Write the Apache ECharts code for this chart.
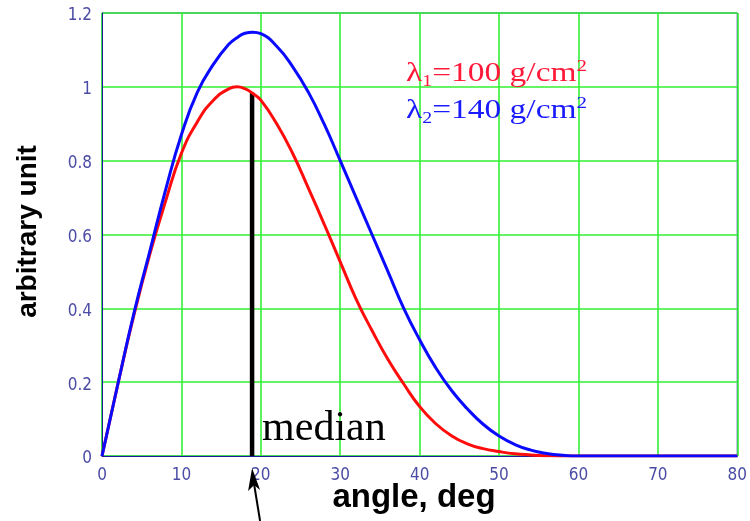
<!DOCTYPE html>
<html>
<head>
<meta charset="utf-8">
<script src="https://cdn.jsdelivr.net/npm/echarts@6/dist/echarts.min.js"></script>
<style>
  html, body { margin: 0; padding: 0; background: #ffffff; }
  #chart { width: 750px; height: 521px; }
</style>
</head>
<body>
<div id="chart"></div>
<script>
// Angular distributions (arbitrary units) for two thicknesses
var angles = [0, 2, 4, 6, 8, 10, 12, 14, 16, 17, 18, 19, 20, 22, 24, 26, 28, 30, 32, 34, 36, 38, 40, 42, 44, 46, 48, 50, 52, 54, 56, 58, 60, 70, 80];
var lambda100 = [0, 0.195, 0.38, 0.545, 0.69, 0.82, 0.905, 0.963, 0.995, 1.0, 0.995, 0.982, 0.964, 0.90, 0.82, 0.725, 0.627, 0.526, 0.425, 0.34, 0.262, 0.195, 0.134, 0.088, 0.055, 0.033, 0.02, 0.012, 0.006, 0.003, 0.001, 0, 0, 0, 0];
var lambda140 = [0, 0.195, 0.385, 0.553, 0.72, 0.87, 0.985, 1.06, 1.116, 1.133, 1.145, 1.148, 1.144, 1.11, 1.055, 0.985, 0.898, 0.8, 0.7, 0.6, 0.5, 0.4, 0.315, 0.24, 0.178, 0.128, 0.086, 0.054, 0.031, 0.016, 0.007, 0.002, 0, 0, 0];

// Median of the λ1 distribution
var medianAngle = 18.9;
var medianTop = 0.984;

var xTicks = [0, 10, 20, 30, 40, 50, 60, 70, 80];
var yTicks = [0, 0.2, 0.4, 0.6, 0.8, 1, 1.2];

var legendLines = [
  { sub: '1', value: '100', color: '#ff1a3a' },
  { sub: '2', value: '140', color: '#1a1aff' }
];

function pairs(xs, ys) {
  return xs.map(function (x, i) { return [x, ys[i]]; });
}

var tickColor = '#4b4ba6';
var borderColor = '#1c1c9c';
var gridColor = '#33f033';
var serif = '"Liberation Serif", "Times New Roman", serif';

var chart = echarts.init(document.getElementById('chart'), null, { renderer: 'canvas' });

var option = {
  animation: false,
  backgroundColor: '#ffffff',
  grid: { left: 102, right: 10, top: 13, bottom: 65, show: true, borderColor: borderColor, borderWidth: 1 },
  xAxis: {
    type: 'value',
    min: xTicks[0],
    max: xTicks[xTicks.length - 1],
    interval: 10,
    axisLine: { show: true, lineStyle: { color: borderColor, width: 1 } },
    axisTick: { show: false },
    splitLine: { show: true, lineStyle: { color: gridColor, width: 1.6 } },
    axisLabel: { color: tickColor, fontFamily: 'DejaVu Sans Condensed, sans-serif', fontSize: 17, margin: 11 }
  },
  yAxis: {
    type: 'value',
    min: yTicks[0],
    max: yTicks[yTicks.length - 1],
    interval: 0.2,
    name: 'arbitrary unit',
    nameLocation: 'middle',
    nameGap: 60,
    nameRotate: 90,
    nameTextStyle: { fontFamily: 'Liberation Sans, Arial, sans-serif', fontWeight: 'bold', fontSize: 28, color: '#000000', padding: [0, 0, 0, 6] },
    axisLine: { show: true, lineStyle: { color: borderColor, width: 1 } },
    axisTick: { show: false },
    splitLine: { show: true, lineStyle: { color: gridColor, width: 1.6 } },
    axisLabel: {
      color: tickColor, fontFamily: 'DejaVu Sans Condensed, sans-serif', fontSize: 17, margin: 10,
      verticalAlign: 'top', lineHeight: 6,
      formatter: function (v) { return String(Math.round(v * 10) / 10); }
    }
  },
  series: [
    {
      name: 'median',
      type: 'line',
      data: [[medianAngle, 0], [medianAngle, medianTop]],
      symbol: 'none',
      lineStyle: { color: '#000000', width: 4.5 },
      z: 3
    },
    {
      name: 'lambda140',
      type: 'line',
      data: pairs(angles, lambda140),
      smooth: true,
      symbol: 'none',
      lineStyle: { color: '#0a0aff', width: 3 },
      z: 4
    },
    {
      name: 'lambda100',
      type: 'line',
      data: pairs(angles, lambda100),
      smooth: true,
      symbol: 'none',
      lineStyle: { color: '#ff0d0d', width: 3 },
      z: 3
    }
  ]
};

chart.setOption(option);

// Annotations placed from the axis scales
var base = chart.convertToPixel({ gridIndex: 0 }, [medianAngle, 0]);
var mx = base[0];
var my = base[1];

var graphics = [];

// x-axis title
graphics.push({
  type: 'text',
  x: 414,
  y: 498,
  style: {
    text: 'angle, deg', fill: '#000000', align: 'center', verticalAlign: 'middle',
    font: 'bold 33px "Liberation Sans", Arial, sans-serif'
  },
  z: 10
});

// "median" caption beside the line
graphics.push({
  type: 'text',
  x: mx + 10,
  y: my - 6,
  style: { text: 'median', fill: '#000000', verticalAlign: 'bottom', font: '42px ' + serif },
  z: 10
});

// Arrow pointing up at the median angle
var tipY = my + 12;
var tailX = mx + 8, tailY = 521;
graphics.push({
  type: 'line',
  shape: { x1: tailX, y1: tailY, x2: mx + 1, y2: tipY + 10 },
  style: { stroke: '#000000', lineWidth: 2 },
  z: 10
});
graphics.push({
  type: 'polygon',
  shape: { points: [[mx, tipY], [mx + 8, tipY + 22], [mx + 2, tipY + 17], [mx - 4, tipY + 23]] },
  style: { fill: '#000000' },
  z: 10
});

// Legend lines with subscripts and superscripts
legendLines.forEach(function (ln, i) {
  graphics.push({
    type: 'text',
    x: 406,
    y: 58 + i * 37,
    scaleX: 1.24,
    style: {
      rich: {
        m: { fontFamily: serif, fontSize: 27, fill: ln.color, verticalAlign: 'middle', lineHeight: 32 },
        s: { fontFamily: serif, fontSize: 16, fill: ln.color, verticalAlign: 'bottom', lineHeight: 21 },
        p: { fontFamily: serif, fontSize: 17, fill: ln.color, verticalAlign: 'top', lineHeight: 28 }
      },
      text: '{m|λ}{s|' + ln.sub + '}{m|=' + ln.value + ' g/cm}{p|2}'
    },
    z: 10
  });
});

chart.setOption({ graphic: graphics });
</script>
</body>
</html>
